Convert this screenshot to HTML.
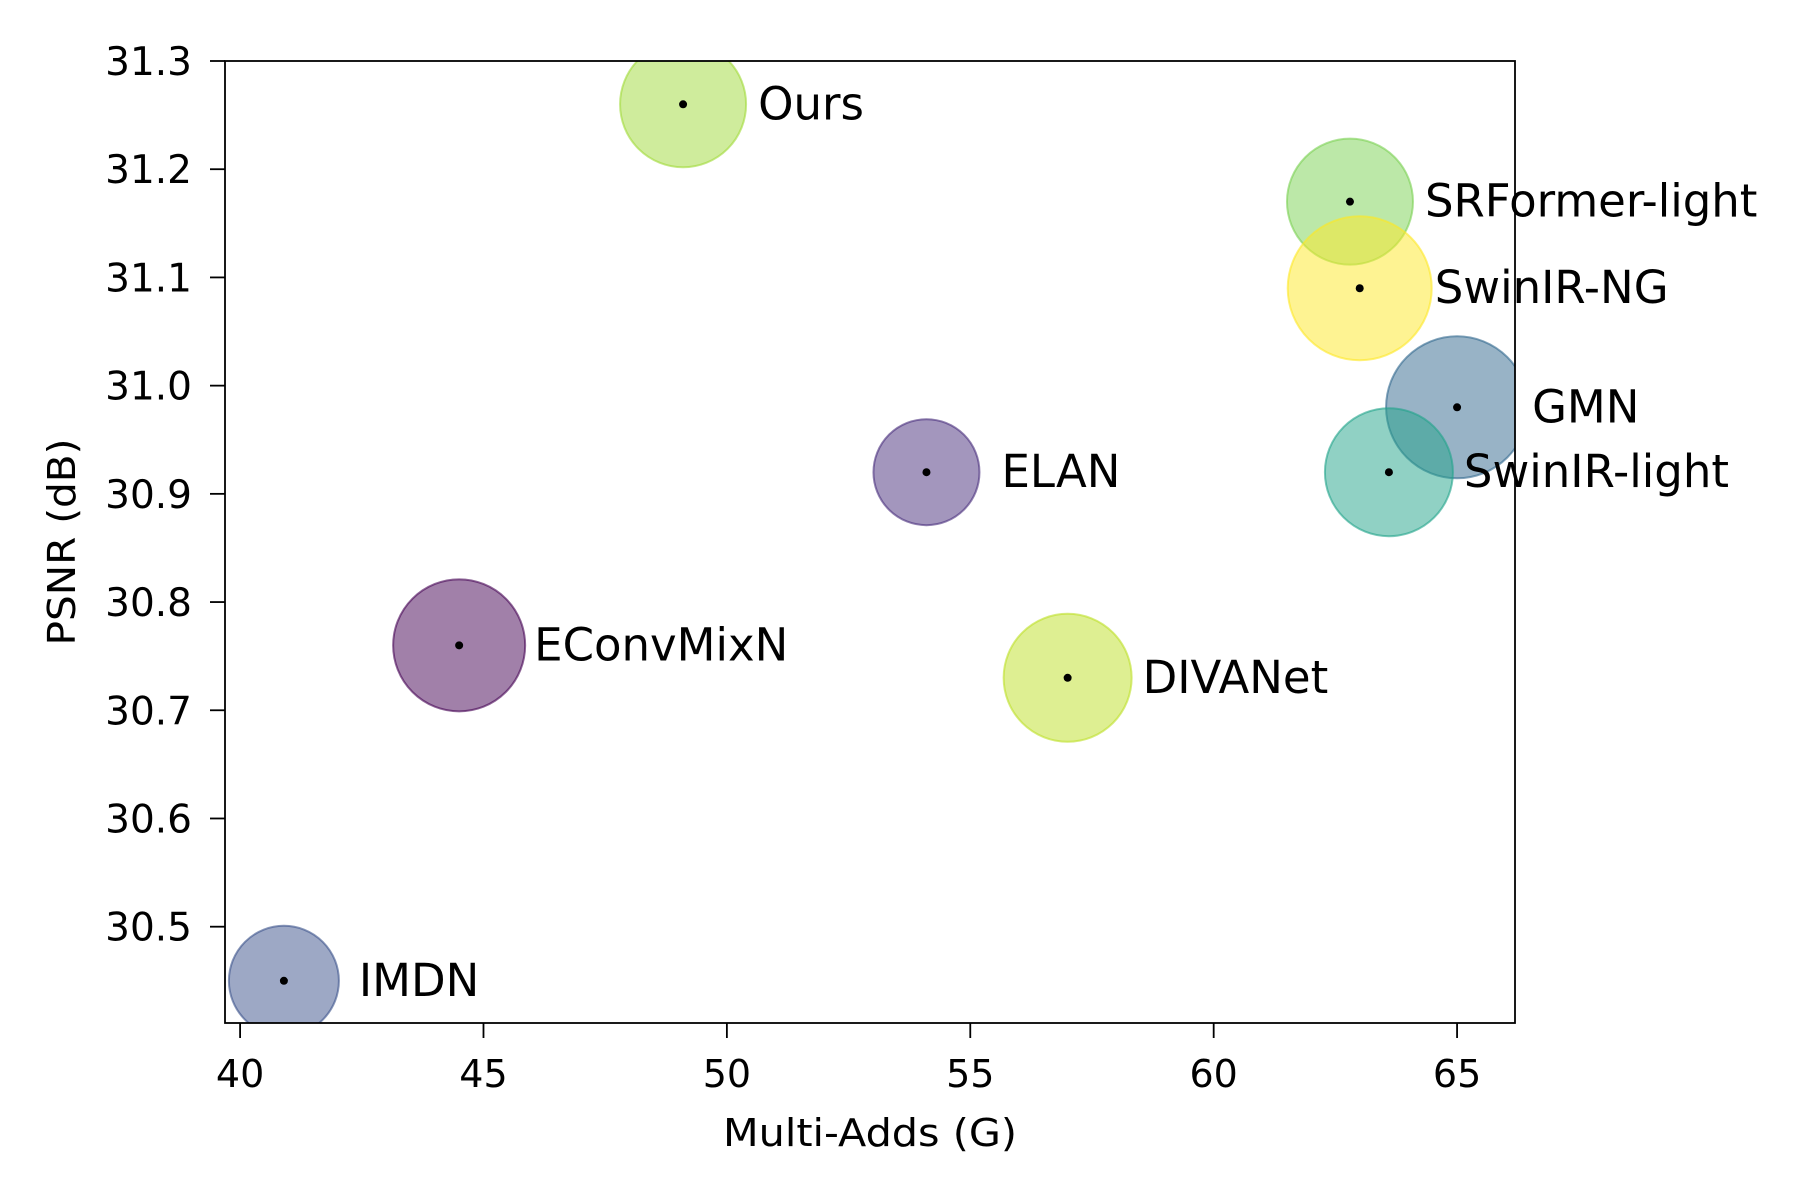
<!DOCTYPE html>
<html><head><meta charset="utf-8"><style>
body{margin:0;background:#fff;}
svg{display:block;font-family:"DejaVu Sans","Liberation Sans",sans-serif;}
</style></head><body>
<svg id="chart" width="1800" height="1200" viewBox="0 0 1800 1200" xmlns="http://www.w3.org/2000/svg">
<rect width="1800" height="1200" fill="#fff"/>
<g id="marks"></g>
<rect x="225" y="61" width="1290" height="962" fill="none" stroke="#000" stroke-width="1.8"/>
<g id="axes"></g>
<text x="870" y="1146" font-size="38" text-anchor="middle" textLength="294" lengthAdjust="spacingAndGlyphs">Multi-Adds (G)</text>
<text transform="translate(75,542) rotate(-90)" font-size="38" text-anchor="middle" textLength="207" lengthAdjust="spacingAndGlyphs">PSNR (dB)</text>
</svg>
<script>
const names = ["IMDN","EConvMixN","Ours","ELAN","DIVANet","SRFormer-light","SwinIR-NG","GMN","SwinIR-light"];
const multiAdds = [40.9,44.5,49.1,54.1,57.0,62.8,63.0,65.0,63.6];
const psnr = [30.45,30.76,31.26,30.92,30.73,31.17,31.09,30.98,30.92];
const bubbleSize = [55,66,63,53,64,63,72,71,64];
const colors = ["#3b528b","#440154","#a0da39","#472d7b","#bddf26","#7ad151","#fde725","#31688e","#21a38a"];
const xTicks = [40,45,50,55,60,65];
const yTicks = [30.5,30.6,30.7,30.8,30.9,31.0,31.1,31.2,31.3];

const L=225,R=1515,T=61,B=1023;
const xMin=39.69,xMax=66.19,yMin=30.411,yMax=31.3;
const xs=v=>L+(v-xMin)/(xMax-xMin)*(R-L);
const ys=v=>B-(v-yMin)/(yMax-yMin)*(B-T);
const NS="http://www.w3.org/2000/svg";
const marks=document.getElementById('marks');
const axes=document.getElementById('axes');
function mk(tag,attrs,parent){const e=document.createElementNS(NS,tag);for(const k in attrs)e.setAttribute(k,attrs[k]);parent.appendChild(e);return e;}

const clip=mk('clipPath',{id:'pc'},marks);
mk('rect',{x:L,y:T,width:R-L,height:B-T},clip);
const bub=mk('g',{'clip-path':'url(#pc)'},marks);
names.forEach((n,i)=>{
  const c=mk('circle',{cx:xs(multiAdds[i]),cy:ys(psnr[i]),r:bubbleSize[i],fill:colors[i],'fill-opacity':0.5,stroke:colors[i],'stroke-opacity':0.6,'stroke-width':2},bub);
  
  
});
names.forEach((n,i)=>{
  const d=mk('circle',{cx:xs(multiAdds[i]),cy:ys(psnr[i]),r:4,fill:'#000'},marks);
  
  
  const t=mk('text',{x:xs(multiAdds[i])+75,y:ys(psnr[i])+15,'font-size':45},marks);
  t.textContent=n;
  
  
});
xTicks.forEach(v=>{
  const x=xs(v);
  const l=mk('line',{x1:x,x2:x,y1:B,y2:B+15,stroke:'#000','stroke-width':1.8},axes);
  
  
  const t=mk('text',{x:x,y:B+64,'font-size':38,'text-anchor':'middle'},axes);
  t.textContent=v;
  
  
});
yTicks.forEach(v=>{
  const y=ys(v);
  const l=mk('line',{x1:L-15,x2:L,y1:y,y2:y,stroke:'#000','stroke-width':1.8},axes);
  
  
  const t=mk('text',{x:L-33,y:y+14,'font-size':39,'text-anchor':'end'},axes);
  t.textContent=v.toFixed(1);
  
  
});
</script>
</body></html>
